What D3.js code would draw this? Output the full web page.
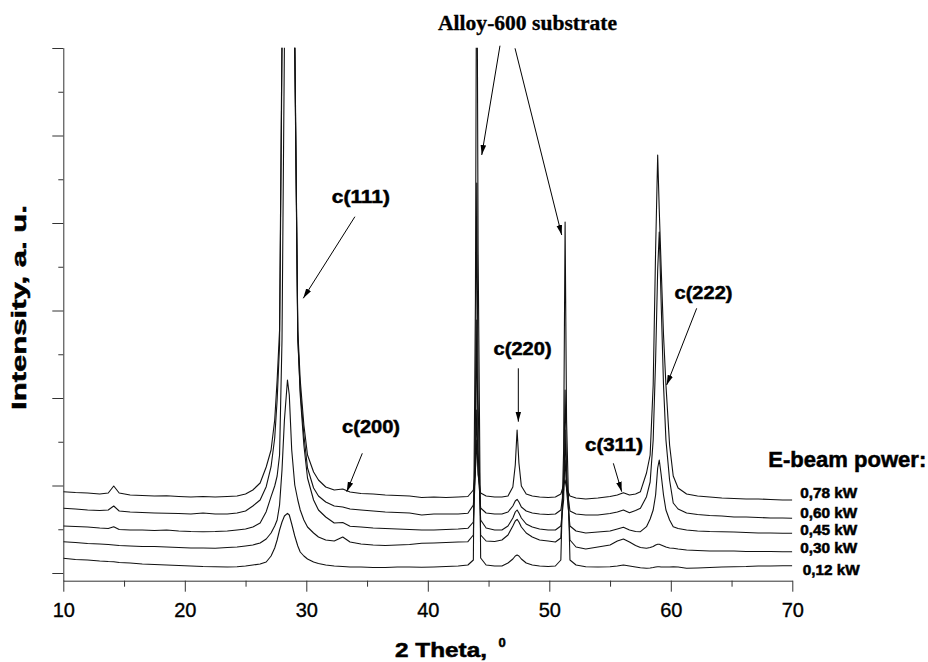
<!DOCTYPE html>
<html>
<head>
<meta charset="utf-8">
<script src="https://cdn.jsdelivr.net/npm/d3@7"></script>
<style>
  body { margin: 0; background: #fff; }
  svg { display: block; }
  .tick text { font-family: "Liberation Sans", Arial, sans-serif; font-size: 20px; fill: #000; stroke: #000; stroke-width: 0.35px; }
  .tick line, .domain { stroke: #333; }
  .bold { font-family: "Liberation Sans", Arial, sans-serif; font-weight: bold; fill: #000; stroke: #000; stroke-width: 0.5px; }
</style>
</head>
<body>
<div id="chart"></div>
<script>
// 2 theta grid shared by all scans (degrees)
const twoTheta = [
  10, 11, 12, 13, 13.7, 14.15, 14.6, 15.5, 16.5, 17.5,
  18.5, 19.5, 20.5, 21.5, 22.5, 23.5, 24.3, 25.0, 25.6, 26.2,
  26.7, 27.1, 27.4, 27.6, 27.8, 28.0, 28.2, 28.45, 28.6, 28.8,
  29.05, 29.3, 29.5, 29.8, 30.1, 30.6, 31.0, 31.6, 32.3, 33.0,
  33.6, 34.5, 35.5, 36.5, 37.5, 38.5, 39.5, 40.5, 41.5, 42.5,
  43.3, 43.75, 43.92, 44.03, 44.14, 44.35, 44.8, 45.5, 46.1, 46.6,
  47.0, 47.2, 47.35, 47.5, 47.7, 48.1, 48.6, 49.2, 49.9, 50.5,
  50.95, 51.18, 51.3, 51.42, 51.7, 52.2, 53, 54, 55, 55.6,
  56.1, 56.6, 57.1, 57.5, 58.0, 58.3, 58.55, 58.75, 58.92, 59.05,
  59.2, 59.4, 59.6, 59.9, 60.2, 60.6, 61.3, 62.2, 63.2, 64.2,
  65.2, 66.2, 67.2, 68.2, 69.2, 70
];

// intensities (a.u., stacked as plotted)
const power078 = [
  813, 805, 800, 790, 800, 870, 800, 780, 775, 770,
  772, 765, 760, 765, 760, 765, 770, 790, 830, 900,
  1060, 1230, 1530, 1930, 2430, 5400, 7000, 8500, 8500, 7000,
  5400, 2430, 1930, 1480, 1180, 1010, 930, 860, 830, 840,
  810, 795, 790, 780, 775, 770, 755, 760, 755, 760,
  765, 830, 1030, 1330, 980, 800, 770, 760, 760, 770,
  860, 1080, 1430, 1100, 870, 790, 770, 760, 755, 760,
  790, 880, 930, 850, 770, 750, 740, 750, 765, 780,
  803, 780, 790, 813, 1000, 1180, 1880, 3230, 4180, 3630,
  3080, 2380, 1880, 1280, 970, 850, 790, 770, 760, 750,
  745, 740, 740, 735, 730, 730
];
const power060 = [
  647, 640, 630, 625, 630, 670, 620, 610, 605, 600,
  597, 595, 590, 600, 590, 590, 600, 620, 670, 730,
  863, 1063, 1350, 1730, 2280, 5200, 6800, 8000, 8000, 6800,
  5200, 2330, 1830, 1380, 1050, 850, 770, 710, 670, 660,
  640, 630, 620, 610, 605, 600, 580, 590, 590, 590,
  597, 680, 1030, 1630, 1030, 650, 600, 590, 590, 610,
  670, 720, 737, 710, 660, 620, 600, 590, 585, 590,
  630, 830, 1130, 880, 620, 590, 580, 580, 595, 610,
  630, 603, 625, 647, 763, 910, 1330, 2130, 3030, 3410,
  2730, 1880, 1330, 930, 700, 640, 600, 585, 575, 570,
  560, 560, 555, 550, 550, 547
];
const power045 = [
  470, 465, 460, 450, 445, 463, 435, 430, 430, 425,
  430, 420, 415, 413, 415, 420, 430, 440, 460, 500,
  613, 763, 870, 970, 1180, 2330, 5300, 7500, 8000, 7000,
  5300, 2380, 1780, 1280, 950, 730, 630, 560, 500, 505,
  468, 460, 450, 445, 440, 435, 430, 430, 435, 440,
  447, 510, 1030, 2530, 1230, 530, 450, 430, 430, 470,
  550, 610, 630, 600, 550, 490, 460, 440, 430, 430,
  470, 730, 1430, 830, 470, 420, 400, 410, 420, 440,
  457, 430, 415, 413, 463, 540, 630, 780, 1050, 1130,
  990, 780, 630, 530, 463, 445, 430, 420, 415, 413,
  410, 405, 400, 400, 397, 397
];
const power030 = [
  313, 305, 295, 290, 285, 280, 275, 270, 265, 265,
  260, 255, 250, 250, 247, 255, 260, 270, 280, 300,
  340, 400, 470, 530, 680, 1030, 1530, 1930, 1780, 1230,
  880, 730, 630, 530, 460, 400, 360, 330, 320, 360,
  310, 290, 280, 275, 280, 285, 297, 300, 305, 310,
  313, 380, 1530, 3900, 1730, 380, 320, 315, 330, 380,
  470, 520, 537, 510, 460, 400, 360, 330, 320, 310,
  350, 930, 1830, 1030, 330, 260, 240, 260, 280, 320,
  340, 310, 275, 255, 247, 255, 265, 280, 287, 287,
  280, 270, 260, 250, 247, 240, 230, 225, 220, 220,
  220, 215, 215, 215, 213, 213
];
const power012 = [
  147, 135, 130, 120, 115, 113, 105, 100, 90, 85,
  80, 75, 70, 65, 63, 60, 63, 70, 80, 90,
  110, 170, 250, 330, 430, 510, 570, 597, 580, 490,
  370, 270, 210, 170, 140, 110, 95, 80, 70, 65,
  60, 60, 55, 55, 60, 60, 57, 60, 65, 70,
  80, 130, 2730, 7000, 3230, 150, 80, 70, 70, 100,
  140, 170, 180, 170, 140, 100, 80, 70, 65, 70,
  130, 1230, 3510, 1530, 130, 80, 63, 60, 63, 70,
  80, 70, 60, 53, 47, 50, 55, 60, 63, 63,
  60, 60, 60, 60, 63, 60, 47, 50, 55, 60,
  63, 65, 70, 70, 73, 73
];

const scans = [power078, power060, power045, power030, power012];
const powerLabels = ['0,78 kW', '0,60 kW', '0,45 kW', '0,30 kW', '0,12 kW'];
const powerLabelY = [753, 553, 380, 197, -20];

const xTicks = [10, 20, 30, 40, 50, 60, 70];
const xMinorTicks = [15, 25, 35, 45, 55, 65];
const yTicks = [0, 875, 1750, 2625, 3500, 4375, 5250];
const yMinorTicks = [437.5, 1312.5, 2187.5, 3062.5, 3937.5, 4812.5];

// peak annotations: label, label anchor [2theta, intensity], arrow [from, to]
const peakLabels = ['c(111)', 'c(200)', 'c(220)', 'c(311)', 'c(222)'];
const peakLabelAt = [[34.49, 3695], [35.33, 1397], [47.8, 2180], [55.33, 1217], [62.69, 2735]];
const peakArrows = [
  [[34.0, 3563], [29.75, 2747]],
  [[34.61, 1197], [33.33, 813]],
  [[47.45, 2047], [47.45, 1513]],
  [[55.27, 1097], [55.96, 813]],
  [[62.13, 2647], [59.66, 1880]]
];
const substrateLabel = 'Alloy-600 substrate';
const substrateAt = [48.21, 5435];
const substrateArrows = [
  [[45.94, 5273], [44.44, 4180]],
  [[47.18, 5247], [51.02, 3380]]
];

const drawChart = () => {
  const margin = {top: 47.7, left: 63.3};
  const width = 729;
  const height = 533;

  const svg = d3.select('#chart').append('svg')
    .attr('width', 928)
    .attr('height', 662);

  const defs = svg.append('defs');
  defs.append('clipPath').attr('id', 'plot-clip')
    .append('rect')
    .attr('x', 0).attr('y', 0)
    .attr('width', width).attr('height', height);
  defs.append('marker')
    .attr('id', 'arrow')
    .attr('viewBox', '0 -4 10 8')
    .attr('refX', 10).attr('refY', 0)
    .attr('markerWidth', 10).attr('markerHeight', 8)
    .attr('markerUnits', 'userSpaceOnUse')
    .attr('orient', 'auto')
    .append('path')
    .attr('d', 'M0,-2.8L10,0L0,2.8Z')
    .attr('fill', '#000');

  const chart = svg.append('g').attr('transform', `translate(${margin.left}, ${margin.top})`);

  const xScale = d3.scaleLinear().domain([10, 70]).range([0, width]);
  const yScale = d3.scaleLinear().domain([-77, 5253]).range([height, 0]);

  // axes
  chart.append('g')
    .attr('transform', `translate(0, ${height})`)
    .call(d3.axisBottom(xScale).tickValues(xMinorTicks).tickSize(6).tickFormat(''))
    .call(g => g.select('.domain').remove());
  chart.append('g')
    .attr('transform', `translate(0, ${height})`)
    .call(d3.axisBottom(xScale).tickValues(xTicks).tickSize(11).tickSizeOuter(0).tickPadding(11).tickFormat(d3.format('d')));

  chart.append('g')
    .call(d3.axisLeft(yScale).tickValues(yMinorTicks).tickSize(5).tickFormat(''))
    .call(g => g.select('.domain').remove());
  chart.append('g')
    .call(d3.axisLeft(yScale).tickValues(yTicks).tickSize(11).tickSizeOuter(0).tickFormat(''));

  // scans
  const line = d3.line()
    .x((d, i) => xScale(twoTheta[i]))
    .y(d => yScale(d));

  chart.append('g')
    .attr('clip-path', 'url(#plot-clip)')
    .selectAll('path')
    .data(scans)
    .enter()
    .append('path')
    .attr('d', line)
    .attr('fill', 'none')
    .attr('stroke', '#111')
    .attr('stroke-width', 1.1)
    .attr('stroke-linejoin', 'round');

  // peak annotations
  chart.selectAll('.peak-label')
    .data(peakLabels)
    .enter()
    .append('text')
    .attr('class', 'peak-label bold')
    .attr('x', (d, i) => xScale(peakLabelAt[i][0]))
    .attr('y', (d, i) => yScale(peakLabelAt[i][1]))
    .attr('text-anchor', 'middle')
    .attr('font-size', 18)
    .attr('textLength', 58)
    .attr('lengthAdjust', 'spacingAndGlyphs')
    .text(d => d);

  chart.selectAll('.arrow')
    .data(peakArrows.concat(substrateArrows))
    .enter()
    .append('line')
    .attr('class', 'arrow')
    .attr('x1', d => xScale(d[0][0]))
    .attr('y1', d => yScale(d[0][1]))
    .attr('x2', d => xScale(d[1][0]))
    .attr('y2', d => yScale(d[1][1]))
    .attr('stroke', '#000')
    .attr('stroke-width', 1)
    .attr('marker-end', 'url(#arrow)');

  chart.append('text')
    .attr('x', xScale(substrateAt[0]))
    .attr('y', yScale(substrateAt[1]))
    .attr('text-anchor', 'middle')
    .attr('font-family', '"Liberation Serif", "Times New Roman", serif')
    .attr('font-weight', 'bold')
    .attr('font-size', 20)
    .attr('stroke', '#000')
    .attr('stroke-width', 0.3)
    .attr('textLength', 179)
    .attr('lengthAdjust', 'spacingAndGlyphs')
    .text(substrateLabel);

  // power labels
  chart.append('text')
    .attr('class', 'bold')
    .attr('x', width - 24)
    .attr('y', yScale(1063))
    .attr('font-size', 22)
    .attr('textLength', 158)
    .attr('lengthAdjust', 'spacingAndGlyphs')
    .text('E-beam power:');

  chart.selectAll('.power-label')
    .data(powerLabels)
    .enter()
    .append('text')
    .attr('class', 'power-label bold')
    .attr('x', (d, i) => width + (i === 4 ? 10.4 : 8))
    .attr('y', (d, i) => yScale(powerLabelY[i]))
    .attr('font-size', 14)
    .attr('textLength', 57)
    .attr('lengthAdjust', 'spacingAndGlyphs')
    .text(d => d);

  // axis titles
  svg.append('text')
    .attr('class', 'bold')
    .attr('transform', 'rotate(-90)')
    .attr('x', -307.5)
    .attr('y', 26)
    .attr('text-anchor', 'middle')
    .attr('font-size', 20)
    .attr('textLength', 205)
    .attr('lengthAdjust', 'spacingAndGlyphs')
    .text('Intensity, a. u.');

  svg.append('text')
    .attr('class', 'bold')
    .attr('x', 395)
    .attr('y', 657)
    .attr('font-size', 20)
    .attr('textLength', 92)
    .attr('lengthAdjust', 'spacingAndGlyphs')
    .text('2 Theta,');
  svg.append('text')
    .attr('class', 'bold')
    .attr('x', 498.5)
    .attr('y', 646.5)
    .attr('font-size', 13)
    .text('0');

  return svg.node();
};

document.addEventListener('DOMContentLoaded', () => {
  drawChart();
});
</script>
</body>
</html>
